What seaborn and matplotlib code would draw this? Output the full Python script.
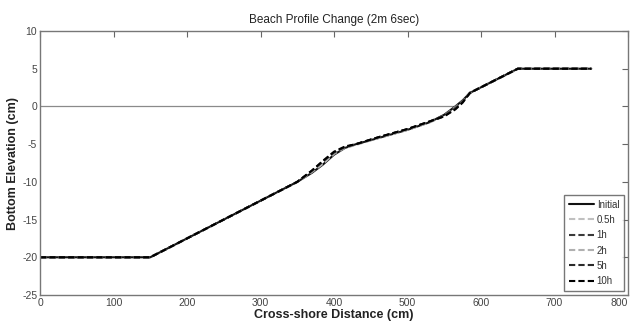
import matplotlib
matplotlib.use('Agg')
import matplotlib.pyplot as plt
import seaborn as sns
import pandas as pd

# Profile data (cm)
distance = [0, 150, 350, 370, 385, 400, 415, 430, 460, 500, 530, 550, 565, 575, 585, 650, 750]
initial = [-20, -20, -10.0, -8.8, -7.7, -6.4, -5.5, -5.0, -4.2, -3.1, -2.1, -1.1, 0.0, 0.8, 1.8, 5, 5]
h05 = [-20, -20, -10.0, -8.7, -7.6, -6.3, -5.4, -5.0, -4.2, -3.1, -2.1, -1.2, -0.1, 0.7, 1.8, 5, 5]
h1 = [-20, -20, -10.0, -8.6, -7.4, -6.2, -5.4, -5.0, -4.1, -3.0, -2.0, -1.2, -0.2, 0.7, 1.8, 5, 5]
h2 = [-20, -20, -10.0, -8.6, -7.5, -6.2, -5.5, -5.1, -4.2, -3.1, -2.1, -1.3, -0.3, 0.6, 1.8, 5, 5]
h5 = [-20, -20, -10.0, -8.5, -7.3, -6.1, -5.4, -5.0, -4.1, -3.0, -2.0, -1.3, -0.3, 0.6, 1.8, 5, 5]
h10 = [-20, -20, -10.0, -8.5, -7.2, -6.0, -5.3, -5.0, -4.1, -3.0, -2.0, -1.3, -0.4, 0.5, 1.8, 5, 5]
labels = ['Initial', '0.5h', '1h', '2h', '5h', '10h']
series = [initial, h05, h1, h2, h5, h10]
colors = ['#111111', '#c0c0c0', '#3a3a3a', '#b0b0b0', '#2a2a2a', '#000000']
styles = ['-', '--', '--', '--', '--', '--']

# still water level
water_x = [0, 565]
water_y = [0, 0]

xticks = list(range(0, 801, 100))
yticks = list(range(-25, 11, 5))

sns.set_style('white')
plt.rcParams['font.family'] = ['Liberation Sans Narrow', 'Liberation Sans', 'DejaVu Sans']
plt.rcParams['axes.unicode_minus'] = False

fig = plt.figure(figsize=(6.32, 3.31), dpi=100)
ax = fig.add_axes([0.0633, 0.1088, 0.9304, 0.7975])

sns.lineplot(x=water_x, y=water_y, ax=ax, color='#8a8a8a', linewidth=0.9)
for lab, ys, col, ls in zip(labels, series, colors, styles):
    df = pd.DataFrame({'x': distance, 'y': ys})
    sns.lineplot(data=df, x='x', y='y', ax=ax, color=col, linestyle=ls,
                 linewidth=1.5, label=lab, sort=False, dashes=False)
for ln in ax.get_lines()[2:]:
    ln.set_dashes((3, 1.5))

ax.set_xlim(0, 800)
ax.set_ylim(-25, 10)
ax.set_xticks(xticks)
ax.set_yticks(yticks)
ax.tick_params(direction='in', length=4, width=0.8, color='#666666',
               labelsize=7.5, labelcolor='#444444', top=True, right=True, pad=2)
ax.get_xticklabels()[-1].set_horizontalalignment('right')
for sp in ax.spines.values():
    sp.set_color('#777777')
    sp.set_linewidth(1.0)

ax.set_title('Beach Profile Change (2m 6sec)', fontsize=8.5, color='#222222', pad=6)
ax.set_xlabel('Cross-shore Distance (cm)', fontsize=9, fontweight='bold', color='#222222', labelpad=1)
ax.set_ylabel('Bottom Elevation (cm)', fontsize=9, fontweight='bold', color='#222222', labelpad=2)

leg = ax.legend(loc='lower right', fontsize=7, frameon=True, fancybox=False,
                edgecolor='#555555', handlelength=2.6, handletextpad=0.3,
                labelspacing=0.55, borderpad=0.5, borderaxespad=0.4)
leg.get_frame().set_linewidth(1.0)
for t in leg.get_texts():
    t.set_color('#333333')

fig.savefig('out.png', dpi=100)
